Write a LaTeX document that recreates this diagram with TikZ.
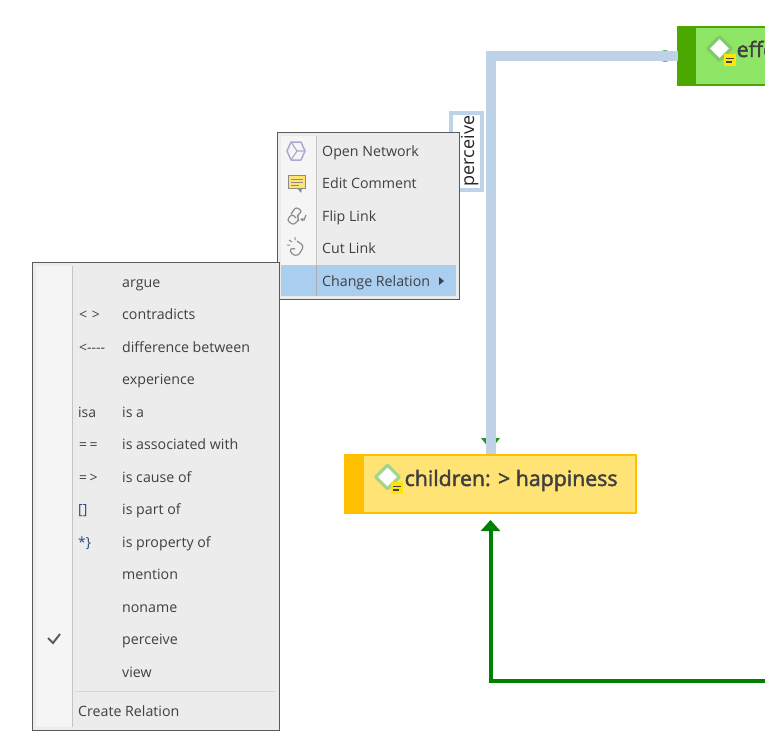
\documentclass[tikz,border=0pt]{standalone}
\usepackage{fontspec}
\setmainfont{Open Sans}
\newfontfamily\titlefont[FakeBold=2]{Open Sans}
\usetikzlibrary{shapes.geometric,arrows.meta}
\definecolor{linkblue}{HTML}{BFD3E8}
\definecolor{menubg}{HTML}{ECECEC}
\definecolor{menucol}{HTML}{F5F5F5}
\definecolor{menuedge}{HTML}{5A5A5A}
\definecolor{menusep}{HTML}{C4C4C4}
\definecolor{hl}{HTML}{A9CEEF}
\definecolor{txt}{HTML}{404040}
\definecolor{keyblue}{HTML}{2B4A78}
\definecolor{lgreen}{HTML}{8FE566}
\definecolor{dgreen}{HTML}{4CA800}
\definecolor{lyellow}{HTML}{FFE375}
\definecolor{dyellow}{HTML}{FFC000}
\definecolor{arrowgreen}{HTML}{008000}
\definecolor{diam}{HTML}{A3D48C}
\definecolor{diamdark}{HTML}{82C968}
\definecolor{noteyl}{HTML}{FFE600}
\definecolor{iconpurple}{HTML}{AFA6D2}
\definecolor{icongray}{HTML}{8C8C8C}
\tikzset{
  item/.style={anchor=base west,inner sep=0pt,text=txt,font=\fontsize{14.2}{16}\selectfont},
  key/.style={anchor=base west,inner sep=0pt,text=txt,font=\fontsize{14}{16}\selectfont},
  nodetitle/.style={anchor=base west,inner sep=0pt,text=txt,font=\fontsize{21.3}{26}\titlefont},
  diamondicon/.style={diamond,aspect=1,draw=diam,fill=white,line width=3.2pt,line join=round,minimum size=25pt,inner sep=0pt},
  noteicon/.style={fill=noteyl,minimum size=12pt,inner sep=0pt},
  link/.style={linkblue,line width=10pt},
  greenline/.style={arrowgreen,line width=4pt},
}
\begin{document}
\begin{tikzpicture}[x=1pt,y=-1pt]
\useasboundingbox (0,0) rectangle (765,752);
\clip (0,0) rectangle (765,752);
\fill[white] (0,0) rectangle (765,752);

% main nodes
\node[draw=dgreen,fill=lgreen,line width=2pt,minimum width=300pt,minimum height=58pt,anchor=west,inner sep=0pt] (effect) at (678,56) {};
\fill[dgreen] (677,26) rectangle (696,86);
\node[draw=dyellow,fill=lyellow,line width=2pt,minimum width=291pt,minimum height=58pt,inner sep=0pt] (children) at (490.5,484) {};
\fill[dyellow] (344,454) rectangle (364,514);

% hidden green ends, under the blue link
\fill[arrowgreen!60!white] (665,56) circle (6);
\fill[arrowgreen!85!white] (481,438) -- (500,438) -- (490.5,450) -- cycle;

% blue link
\draw[link] (effect.west) -| (children.north);

% label on the link
\node[draw=linkblue,fill=white,line width=4pt,minimum width=31pt,minimum height=77pt,inner sep=0pt] (lab) at (466,151) {};
\node[rotate=90,anchor=base,inner sep=0pt,text=black!85,font=\fontsize{18}{20}\selectfont] (labtext) at (474,151) {perceive};

% green link from off the picture
\coordinate (offright) at (770,680.5);
\draw[greenline,-{Triangle[length=11pt,width=19pt]}] (offright) -| (children.south |- 0,520);

% node icons and titles
\node[diamondicon] (d1) at (387.5,477) {};
\node[noteicon] (n1) at (397,488) {};
\draw[txt,line width=1.5pt] (393,486.5) -- (401,486.5) (393,490) -- (399,490);
\node[nodetitle] (childrentitle) at (404.5,486) {children: > happiness};
\node[diamondicon,draw=diamdark] (d2) at (719.5,48.5) {};
\node[noteicon] (n2) at (730,60) {};
\draw[txt,line width=1.5pt] (726,58.5) -- (734,58.5) (726,62) -- (732,62);
\node[nodetitle] (efftitle) at (736.5,57) {effe};

% first menu
\filldraw[draw=menuedge,fill=menubg,line width=1pt] (277.5,132.5) rectangle (459.5,299);
\fill[menucol] (281,136) rectangle (316,295);
\fill[hl] (281,265) rectangle (456,296);
\draw[menusep,line width=1pt] (316.5,136) -- (316.5,265);
\draw[icongray!70,line width=1pt] (316.5,265) -- (316.5,296);
\node[item] (m1) at (322,156) {Open Network};
\node[item] (m2) at (322,188) {Edit Comment};
\node[item] (m3) at (322,221) {Flip Link};
\node[item] (m4) at (322,253) {Cut Link};
\node[item] (m5) at (322,286) {Change Relation};
\fill[txt] (439,277) -- (444,281) -- (439,285) -- cycle;
% menu icons
\draw[iconpurple,line width=1.5pt,line join=round] (291,142) -- (301,142) -- (305,151) -- (301,160) -- (291,160) -- (287,151) -- cycle;
\draw[iconpurple,line width=1.2pt,line join=round] (291,142) -- (297,151) -- (291,160) (297,151) -- (305,151);
\filldraw[draw=icongray,fill=lyellow,line width=1pt] (288.5,175.5) rectangle (305.5,188.5);
\fill[icongray] (297,188) -- (302,188) -- (301,193) -- cycle;
\draw[icongray,line width=.8pt] (291,179) -- (303,179) (291,182) -- (303,182) (291,185) -- (299,185);
\draw[icongray,line width=1.2pt,rounded corners=2.5pt] (291,214) -- (296,207) -- (302,211) -- (297,216) -- (299,220) -- (293,225) -- (287,220) -- (292,214) -- (296,218);
\draw[icongray,line width=1.2pt,-{Latex[length=3pt,width=4pt]}] (306,215) -- (304,220) -- (300,219);
\draw[icongray,line width=1.2pt,rounded corners=3pt] (297,241) -- (304,246) -- (298,256) -- (291,254) -- (290,248) -- (295,249);
\draw[icongray,line width=1pt] (292,242) -- (289,240) (290,245) -- (287,245) (295,240) -- (295,237);

% second menu
\filldraw[draw=menuedge,fill=menubg,line width=1pt] (32.5,262.5) rectangle (279.5,730.5);
\fill[menucol] (36,266) rectangle (72,727);
\draw[menusep,line width=1pt] (72.5,266) -- (72.5,727);
\node[item] (r1) at (122,287) {argue};
\node[item] (r2) at (122,319) {contradicts};
\node[item] (r3) at (122,352) {difference between};
\node[item] (r4) at (122,384) {experience};
\node[item] (r5) at (122,417) {is a};
\node[item] (r6) at (122,449) {is associated with};
\node[item] (r7) at (122,482) {is cause of};
\node[item] (r8) at (122,514) {is part of};
\node[item] (r9) at (122,547) {is property of};
\node[item] (r10) at (122,579) {mention};
\node[item] (r11) at (122,612) {noname};
\node[item] (r12) at (122,644) {perceive};
\node[item] (r13) at (122,677) {view};
\node[key] (k2) at (79,319) {<\,\,>};
\node[key] (k3) at (79,352) {<-{}-{}-{}-};
\node[key] (k5) at (78,417) {isa};
\node[key] (k6) at (79,449) {=\,=};
\node[key] (k7) at (79,482) {=\,>};
\node[key,text=keyblue] (k8) at (78,514) {[]};
\node[key,text=keyblue] (k9) at (78,547) {*\}};
\draw[txt!85,line width=2pt] (48,638) -- (53,643) -- (60,634);
\draw[menusep!70,line width=1pt] (75,691.5) -- (275,691.5);
\node[item] (cr) at (78,716) {Create Relation};
\end{tikzpicture}
\end{document}
